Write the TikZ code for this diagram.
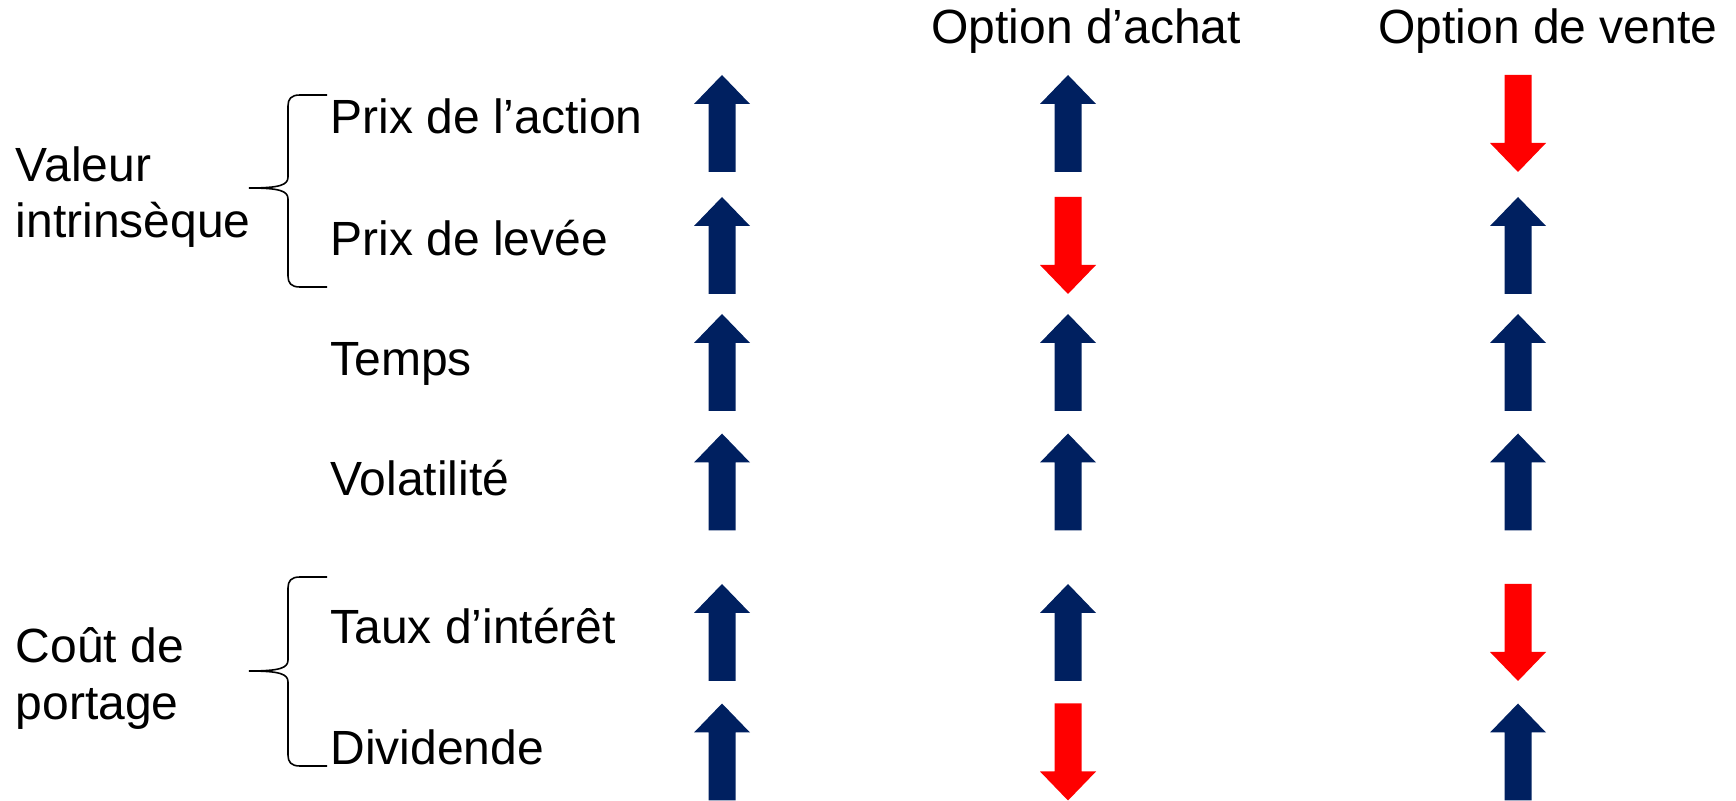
\documentclass[tikz,border=0pt]{standalone}
\usepackage{fontspec}
\setmainfont{Liberation Sans}
\definecolor{navy}{RGB}{0,32,96}
\definecolor{redarr}{RGB}{255,0,0}
\tikzset{
  lbl/.style={anchor=base west, inner sep=0pt, font=\fontsize{24}{28}\selectfont},
  bracepath/.style={draw=black, line width=0.8pt},
  pics/uparr/.style={code={\fill[navy] (0,-48.5) -- (28,-19.5) -- (13.5,-19.5) -- (13.5,48.5) -- (-13.5,48.5) -- (-13.5,-19.5) -- (-28,-19.5) -- cycle;}},
  pics/downarr/.style={code={\fill[redarr] (0,48.5) -- (28,19.5) -- (13.5,19.5) -- (13.5,-48.5) -- (-13.5,-48.5) -- (-13.5,19.5) -- (-28,19.5) -- cycle;}}
}
\begin{document}
\begin{tikzpicture}[x=0.5pt,y=-0.5pt]
\useasboundingbox (0,0) rectangle (1736,801);
% headers
\node[lbl] (hcall) at (931,44) {Option d’achat};
\node[lbl] (hput) at (1378,44) {Option de vente};
% factor labels
\node[lbl] (f1) at (330,134) {Prix de l’action};
\node[lbl] (f2) at (330,256) {Prix de levée};
\node[lbl] (f3) at (330,376) {Temps};
\node[lbl] (f4) at (330,496) {Volatilité};
\node[lbl] (f5) at (330,644) {Taux d’intérêt};
\node[lbl] (f6) at (330,765) {Dividende};
% group labels
\node[lbl] (g1a) at (15.5,182) {Valeur};
\node[lbl] (g1b) at (15.5,238) {intrinsèque};
\node[lbl] (g2a) at (15.5,663) {Coût de};
\node[lbl] (g2b) at (15.5,720) {portage};
% braces
\draw[bracepath] (327,95) -- (300,95) .. controls (291,95) and (288,99) .. (288,106)
  -- (288,177) .. controls (288,185) and (280,188) .. (249,188)
  .. controls (280,188) and (288,191) .. (288,199)
  -- (288,276) .. controls (288,283) and (291,287) .. (300,287) -- (327,287);
\draw[bracepath] (327,577) -- (300,577) .. controls (291,577) and (288,581) .. (288,588)
  -- (288,660) .. controls (288,668) and (280,671) .. (249,671)
  .. controls (280,671) and (288,674) .. (288,682)
  -- (288,755) .. controls (288,762) and (291,766) .. (300,766) -- (327,766);
% arrows: columns 722, 1068, 1518
\pic (a11) at (722,123.5) {uparr};
\pic (a12) at (1068,123.5) {uparr};
\pic (a13) at (1518,123.5) {downarr};
\pic (a21) at (722,245.5) {uparr};
\pic (a22) at (1068,245.5) {downarr};
\pic (a23) at (1518,245.5) {uparr};
\pic (a31) at (722,362.5) {uparr};
\pic (a32) at (1068,362.5) {uparr};
\pic (a33) at (1518,362.5) {uparr};
\pic (a41) at (722,482) {uparr};
\pic (a42) at (1068,482) {uparr};
\pic (a43) at (1518,482) {uparr};
\pic (a51) at (722,632.5) {uparr};
\pic (a52) at (1068,632.5) {uparr};
\pic (a53) at (1518,632.5) {downarr};
\pic (a61) at (722,752) {uparr};
\pic (a62) at (1068,752) {downarr};
\pic (a63) at (1518,752) {uparr};
\end{tikzpicture}
\end{document}
